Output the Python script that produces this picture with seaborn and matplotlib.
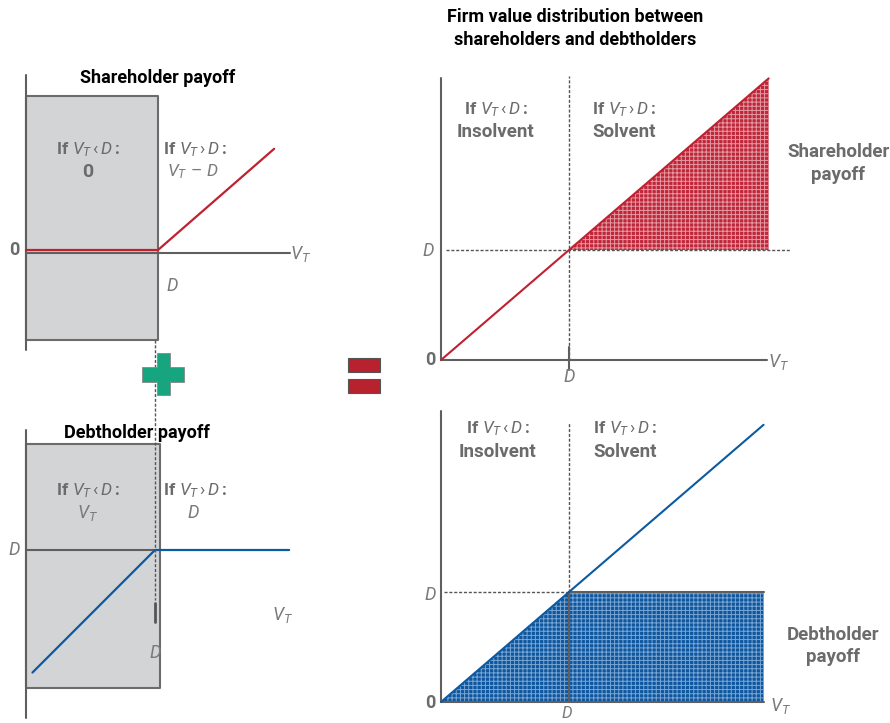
import numpy as np
import pandas as pd
import matplotlib
matplotlib.use("Agg")
import matplotlib.pyplot as plt
from matplotlib.patches import Rectangle
from matplotlib import transforms
import seaborn as sns

sns.set_theme(style="white")
plt.rcParams["font.family"] = ["Roboto", "DejaVu Sans"]
plt.rcParams["mathtext.fontset"] = "custom"
plt.rcParams["mathtext.rm"] = "Roboto"
plt.rcParams["mathtext.it"] = "Roboto:italic"
plt.rcParams["mathtext.bf"] = "Roboto:bold"
plt.rcParams["hatch.linewidth"] = 0.7

# ---------------- data (D normalised to 1) ----------------
D = 1.0
# left-top: shareholder payoff max(V_T - D, 0)
share_vt = [0.0, 1.0, 1.88]
share_pay = [0.0, 0.0, 0.88]
# left-bottom: debtholder payoff min(V_T, D)
debt_vt = [0.05, 1.0, 2.04]
debt_pay = [0.05, 1.0, 1.0]
# right: firm value line
firm_vt = [0.0, 1.0, 2.56]
firm_val = [0.0, 1.0, 2.56]
# right-top: shareholder area (between D and V_T)
sh_area_vt = [1.0, 2.56]
sh_area_lo = [1.0, 1.0]
sh_area_hi = [1.0, 2.56]
# right-bottom: debtholder area (0 .. min(V_T, D))
db_area_vt = [0.0, 1.0, 2.52]
db_area_hi = [0.0, 1.0, 1.0]
firm2_vt = [0.0, 2.52]
firm2_val = [0.0, 2.52]

W, H = 890, 723
fig = plt.figure(figsize=(W / 100, H / 100), dpi=100)

GRAY = "#5f5f5f"
TXT = "#6b6b6b"
TXT_I = "#7a7a7a"
RED = "#bf2130"
BLUE = "#0b5aa2"
RECT = "#d3d4d6"


def panel(pl, pr, pt, pb, ox, oy, ux, uy):
    ax = fig.add_axes([pl / W, 1 - pb / H, (pr - pl) / W, (pb - pt) / H])
    ax.set_xlim((pl - ox) / ux, (pr - ox) / ux)
    ax.set_ylim((oy - pb) / uy, (oy - pt) / uy)
    ax.axis("off")
    ax.patch.set_alpha(0)
    return ax


def line(ax, x, y, color, lw=1.5, **kw):
    df = pd.DataFrame({"x": x, "y": y})
    sns.lineplot(data=df, x="x", y="y", ax=ax, color=color, lw=lw,
                 estimator=None, sort=False, legend=False, **kw)


DASH = (0, (2.2, 1.3))

# ---------------- top-left: shareholder payoff ----------------
a1 = panel(0, 330, 60, 360, 26, 250, 132, 115)
a1.fill_between([0, D], -0.78, 1.34, facecolor=RECT, edgecolor="#6b6b6b", lw=1.5, zorder=1)
a1.plot([0, 0], [-0.87, 1.52], color=GRAY, lw=1.5, zorder=2)
off = transforms.offset_copy(a1.transData, fig=fig, x=0, y=-2.5, units="dots")
a1.plot([0, 2.0], [0, 0], color=GRAY, lw=1.5, zorder=2, transform=off)
line(a1, share_vt, share_pay, RED, lw=1.6, zorder=3)

# ---------------- bottom-left: debtholder payoff ----------------
a2 = panel(0, 330, 340, 723, 26, 679, 129, 129)
a2.fill_between([0, D * 1.04], -0.07, 1.82, facecolor=RECT, edgecolor="#6b6b6b", lw=1.5, zorder=1)
a2.plot([0, 0], [-0.30, 1.93], color=GRAY, lw=1.5, zorder=2)
a2.plot([0, D], [D, D], color=GRAY, lw=1.5, zorder=2)
a2.plot([D, D], [2.63, 0.61], color="#555555", lw=1.0, ls=DASH, zorder=4, clip_on=False)
a2.plot([D, D], [0.59, 0.44], color="#555555", lw=2.0, zorder=4)
line(a2, debt_vt, debt_pay, BLUE, lw=1.6, zorder=3)

# ---------------- top-right: firm value / shareholders ----------------
a3 = panel(400, 890, 60, 390, 441, 360, 128, 110)
a3.fill_between(sh_area_vt, sh_area_lo, sh_area_hi, facecolor="#c0263a",
                edgecolor="#e59aa3", hatch="++++", lw=0, zorder=1)
a3.plot([0, 0], [0, 2.56], color=GRAY, lw=1.5, zorder=2)
a3.plot([0, 2.55], [0, 0], color=GRAY, lw=1.5, zorder=2)
a3.plot([D, D], [0, 2.58], color="#555555", lw=1.0, ls=DASH, zorder=2)
a3.plot([D, D], [-0.09, 0.12], color=GRAY, lw=1.5, zorder=2)
a3.plot([0.04, 2.73], [D, D], color="#555555", lw=1.0, ls=DASH, zorder=2)
line(a3, firm_vt, firm_val, RED, lw=1.5, zorder=3)

# ---------------- bottom-right: firm value / debtholders ----------------
a4 = panel(400, 890, 400, 723, 441, 702, 128, 110)
a4.fill_between(db_area_vt, 0, db_area_hi, facecolor="#0e569e",
                edgecolor="#7aa6d4", hatch="++++", lw=0, zorder=1)
a4.plot([0, 0], [0, 2.65], color=GRAY, lw=1.5, zorder=2)
a4.plot([0, 2.52], [0, 0], color=GRAY, lw=1.5, zorder=2)
a4.plot([D, D], [D, 2.55], color="#555555", lw=1.0, ls=DASH, zorder=2)
a4.plot([0.02, D], [D, D], color="#555555", lw=1.0, ls=DASH, zorder=2)
a4.plot([D, 2.52], [D, D], color=GRAY, lw=1.5, zorder=2)
a4.plot([D, D], [0, D], color=GRAY, lw=1.5, zorder=2)
line(a4, firm2_vt, firm2_val, BLUE, lw=1.5, zorder=3)

# ---------------- overlay for texts and symbols ----------------
ov = fig.add_axes([0, 0, 1, 1])
ov.set_xlim(0, W)
ov.set_ylim(H, 0)
ov.axis("off")
ov.patch.set_alpha(0)

LT = r"$\mathbf{If}\ V_{T}\,\mathrm{‹}\,D\mathbf{:}$"
GT = r"$\mathbf{If}\ V_{T}\,\mathrm{›}\,D\mathbf{:}$"
VT = r"$V_{T}$"


def t(x, y, s, size=13, color=TXT, ha="center", weight="bold", style="normal"):
    ov.text(x, y, s, fontsize=size, color=color, ha=ha, va="center",
            fontweight=weight, fontstyle=style)


# titles
t(575, 17, "Firm value distribution between", size=13, color="black")
t(575, 40, "shareholders and debtholders", size=13, color="black")
t(158, 78, "Shareholder payoff", size=13, color="black")
t(137, 433, "Debtholder payoff", size=13, color="black")

# top-left
t(88, 150, LT, size=12.5)
t(88, 172, "0", size=14)
t(163, 150, GT, size=12.5, ha="left")
t(193, 172, r"$V_{T}\ \mathrm{–}\ D$", size=12.5, color=TXT_I)
t(14, 250, "0", size=13)
t(301, 254, VT, size=13, color=TXT_I)
t(172, 286, r"$D$", size=13, color=TXT_I)

# bottom-left
t(88, 491, LT, size=12.5)
t(88, 513, VT, size=13, color=TXT_I)
t(163, 491, GT, size=12.5, ha="left")
t(193, 513, r"$D$", size=13, color=TXT_I)
t(14, 550, r"$D$", size=13, color=TXT_I)
t(283, 615, VT, size=13, color=TXT_I)
t(155, 653, r"$D$", size=13, color=TXT_I)

# top-right
t(496, 110, LT, size=12.5)
t(496, 132, "Insolvent", size=13.5)
t(624, 110, GT, size=12.5)
t(624, 132, "Solvent", size=13.5)
t(838, 152, "Shareholder", size=13.5)
t(838, 175, "payoff", size=13.5)
t(428, 251, r"$D$", size=13, color=TXT_I)
t(430, 360, "0", size=13)
t(569, 377, r"$D$", size=13, color=TXT_I)
t(779, 362, VT, size=13, color=TXT_I)

# bottom-right
t(498, 429, LT, size=12.5)
t(498, 452, "Insolvent", size=13.5)
t(625, 429, GT, size=12.5)
t(625, 452, "Solvent", size=13.5)
t(833, 635, "Debtholder", size=13.5)
t(833, 657, "payoff", size=13.5)
t(430, 595, r"$D$", size=13, color=TXT_I)
t(430, 703, "0", size=13)
t(567, 713, r"$D$", size=12, color=TXT_I)
t(781, 706, VT, size=13, color=TXT_I)

# plus sign
GREEN = "#17a57f"
ov.add_patch(Rectangle((142, 367), 42, 15, facecolor=GREEN, edgecolor="#888888", lw=0.6, zorder=5))
ov.add_patch(Rectangle((157, 353), 13, 42, facecolor=GREEN, edgecolor="#888888", lw=0.6, zorder=5))
ov.add_patch(Rectangle((142.6, 367.6), 40.8, 13.8, facecolor=GREEN, edgecolor="none", zorder=6))
# equals sign
ov.add_patch(Rectangle((348, 358), 32, 14, facecolor="#b8222f", edgecolor="#555555", lw=0.8, zorder=5))
ov.add_patch(Rectangle((348, 379), 32, 14, facecolor="#b8222f", edgecolor="#555555", lw=0.8, zorder=5))

fig.savefig("out.png", dpi=100)
